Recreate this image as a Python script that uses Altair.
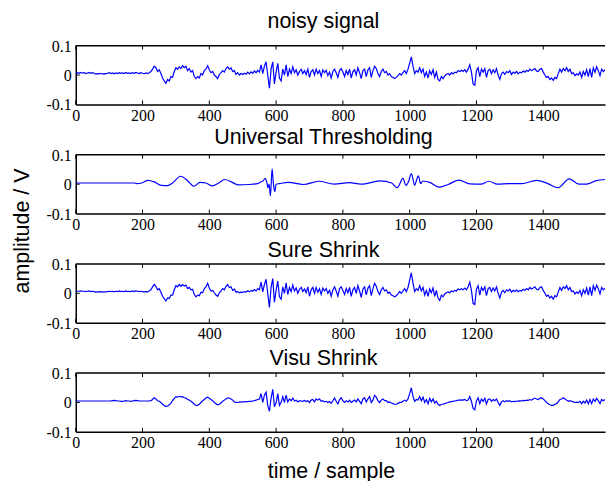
import altair as alt
import pandas as pd

STEP = 5
XMAX = 1585
W, H = 531, 59

x_ticks = [0, 200, 400, 600, 800, 1000, 1200, 1400]
y_tick_values = [-0.1, 0.0, 0.1]
y_tick_labels = ["-0.1", "0", "0.1"]
titles = ["noisy signal", "Universal Thresholding", "Sure Shrink", "Visu Shrink"]
title_offsets = [18, 11, 7, 8]

noisy = [
    0.004,0.008,0.006,0.009,0.007,0.008,0.005,0.007,0.009,0.006,0.008,0.006,0.003,0.005,0.004,0.006,0.003,0.005,0.004,0.006,
    0.008,0.005,0.007,0.004,0.007,0.005,0.008,0.006,0.007,0.005,0.009,0.006,0.007,0.005,0.008,0.006,0.009,0.007,0.005,0.008,
    0.006,0.004,0.007,0.005,0.008,0.012,0.02,0.03,0.025,0.012,0.018,0.005,-0.01,-0.02,-0.028,-0.015,-0.02,-0.005,-0.008,0.012,
    0.025,0.02,0.028,0.022,0.032,0.025,0.03,0.015,0.022,0.01,0.015,-0.005,-0.012,-0.005,-0.01,0.005,0.0,0.015,0.02,0.032,
    0.018,0.008,0.012,0.0,-0.005,-0.012,0.002,0.008,0.015,0.01,0.022,0.028,0.02,0.024,0.012,0.015,0.002,0.008,0.0,0.005,
    0.002,0.006,0.003,0.01,0.004,0.011,0.006,0.014,0.008,0.016,0.01,0.035,0.005,0.03,0.045,0.0,-0.045,0.02,0.045,-0.03,
    0.01,0.04,-0.01,-0.02,0.02,0.0,0.035,-0.005,0.02,0.005,0.028,0.008,0.018,0.0,0.012,0.02,0.005,0.015,0.002,0.02,
    -0.008,0.012,0.018,0.0,0.02,0.005,0.015,-0.005,0.018,0.008,0.016,-0.002,0.01,-0.01,0.012,0.02,0.008,-0.008,0.015,0.022,
    0.01,-0.005,0.015,0.002,0.02,-0.01,0.012,0.018,0.0,0.025,0.008,-0.012,0.015,0.02,-0.005,0.018,0.025,-0.008,0.015,0.03,
    0.022,0.005,-0.005,0.012,0.02,0.008,0.012,0.0,0.005,-0.005,-0.008,-0.012,-0.008,-0.002,0.005,0.0,0.008,0.015,0.005,0.02,
    0.04,0.062,0.03,0.005,0.015,0.01,0.025,0.008,0.02,-0.005,0.01,-0.01,0.015,0.002,0.018,-0.008,0.01,-0.015,-0.02,-0.005,
    -0.012,-0.002,0.002,0.005,0.0,0.008,0.004,0.01,0.008,0.015,0.012,0.016,0.012,0.018,0.01,0.02,0.035,0.01,-0.03,-0.035,
    0.015,0.025,-0.005,0.02,0.01,0.022,-0.008,0.015,0.02,0.005,0.018,0.008,0.022,0.0,-0.015,0.005,0.01,0.002,0.012,0.008,
    0.015,0.002,0.01,0.006,0.012,0.004,0.01,0.008,0.014,0.01,0.016,0.012,0.02,0.015,0.018,0.022,0.014,0.012,0.02,0.022,
    0.01,0.0,-0.008,-0.005,-0.015,-0.01,-0.018,-0.008,-0.012,0.005,0.02,0.01,0.022,0.015,0.025,0.012,0.02,0.005,0.008,-0.002,
    0.004,0.0,0.01,-0.008,0.012,0.0,0.018,-0.005,0.022,-0.008,0.025,0.01,0.028,0.015,-0.002,0.02,0.012,0.018,
]

sure = [
    0.005,0.007,0.007,0.008,0.007,0.007,0.006,0.007,0.008,0.006,0.007,0.006,0.004,0.005,0.005,0.006,0.004,0.005,0.005,0.006,
    0.007,0.006,0.007,0.005,0.007,0.006,0.008,0.006,0.007,0.006,0.008,0.006,0.007,0.006,0.008,0.006,0.008,0.007,0.006,0.007,
    0.006,0.005,0.006,0.005,0.008,0.012,0.022,0.03,0.024,0.012,0.016,0.004,-0.01,-0.018,-0.026,-0.016,-0.018,-0.006,-0.006,0.012,
    0.026,0.022,0.03,0.024,0.03,0.025,0.028,0.016,0.02,0.012,0.014,-0.004,-0.012,-0.006,-0.008,0.004,0.002,0.016,0.022,0.034,
    0.018,0.008,0.01,0.002,-0.006,-0.01,0.002,0.008,0.016,0.012,0.024,0.03,0.02,0.022,0.01,0.014,0.004,0.006,0.002,0.004,
    0.003,0.006,0.004,0.009,0.005,0.01,0.007,0.013,0.008,0.016,0.012,0.038,0.005,0.03,0.048,0.0,-0.048,0.02,0.05,-0.03,
    0.01,0.042,-0.012,-0.02,0.022,0.0,0.036,-0.004,0.02,0.006,0.028,0.008,0.018,0.0,0.014,0.02,0.006,0.015,0.002,0.022,
    -0.01,0.012,0.02,0.0,0.02,0.004,0.016,-0.004,0.018,0.008,0.016,0.0,0.01,-0.01,0.012,0.022,0.008,-0.01,0.016,0.022,
    0.01,-0.004,0.016,0.002,0.02,-0.01,0.012,0.02,0.0,0.026,0.008,-0.014,0.015,0.022,-0.005,0.018,0.026,-0.008,0.016,0.034,
    0.024,0.006,-0.004,0.012,0.02,0.008,0.012,0.0,0.004,-0.006,-0.008,-0.012,-0.008,-0.002,0.006,0.0,0.008,0.016,0.006,0.02,
    0.045,0.07,0.035,0.006,0.016,0.01,0.026,0.008,0.02,-0.006,0.01,-0.01,0.015,0.002,0.018,-0.01,0.01,-0.016,-0.024,-0.006,
    -0.012,-0.002,0.002,0.005,0.002,0.008,0.005,0.01,0.008,0.015,0.012,0.016,0.012,0.018,0.012,0.022,0.038,0.01,-0.035,-0.038,
    0.014,0.026,-0.006,0.02,0.01,0.022,-0.008,0.016,0.02,0.006,0.018,0.008,0.022,0.0,-0.016,0.004,0.01,0.002,0.012,0.008,
    0.014,0.004,0.01,0.006,0.012,0.005,0.01,0.008,0.014,0.01,0.016,0.012,0.02,0.015,0.018,0.022,0.014,0.012,0.02,0.022,
    0.01,0.0,-0.01,-0.006,-0.016,-0.01,-0.02,-0.008,-0.012,0.004,0.02,0.01,0.022,0.016,0.026,0.012,0.02,0.006,0.008,-0.002,
    0.004,0.0,0.01,-0.008,0.012,0.0,0.018,-0.006,0.022,-0.008,0.026,0.01,0.028,0.016,-0.002,0.02,0.012,0.018,
]

visu = [
    0.005,0.005,0.005,0.005,0.005,0.005,0.005,0.005,0.005,0.005,0.005,0.005,0.005,0.005,0.005,0.005,0.005,0.005,0.005,0.005,
    0.005,0.005,0.006,0.007,0.006,0.005,0.005,0.004,0.004,0.005,0.006,0.005,0.005,0.004,0.005,0.006,0.007,0.006,0.005,0.005,
    0.005,0.005,0.005,0.005,0.005,0.006,0.01,0.016,0.012,0.006,0.004,0.0,-0.006,-0.01,-0.014,-0.012,-0.008,-0.002,0.006,0.014,
    0.02,0.018,0.021,0.019,0.02,0.016,0.015,0.01,0.008,0.004,0.0,-0.006,-0.01,-0.01,-0.006,0.0,0.006,0.01,0.015,0.018,
    0.014,0.01,0.006,0.0,-0.004,-0.008,-0.006,-0.002,0.004,0.008,0.012,0.016,0.015,0.012,0.008,0.002,0.0,0.0,0.001,0.002,
    0.002,0.002,0.003,0.003,0.004,0.004,0.005,0.006,0.008,0.01,0.012,0.03,0.0,0.025,0.035,-0.01,-0.03,0.015,0.045,-0.015,
    0.0,0.03,-0.01,0.0,0.02,0.0,0.025,0.002,0.012,0.006,0.015,0.005,0.008,0.002,0.006,0.005,0.004,0.007,0.003,0.006,
    0.0,0.008,0.01,0.002,0.012,0.008,0.012,0.004,0.006,0.002,0.004,0.0,0.003,-0.003,0.006,0.015,0.004,-0.005,0.01,0.016,
    0.006,0.0,0.006,0.002,0.008,0.0,0.004,0.008,0.002,0.012,0.004,-0.004,0.012,0.016,0.002,0.012,0.02,0.0,0.008,0.024,
    0.018,0.006,0.0,0.008,0.012,0.006,0.006,0.0,0.002,-0.002,-0.004,-0.006,-0.006,-0.003,0.0,0.0,0.004,0.008,0.004,0.012,
    0.03,0.05,0.02,0.004,0.01,0.008,0.02,0.006,0.018,0.0,0.01,-0.004,0.014,0.002,0.012,-0.002,0.004,-0.006,-0.01,-0.006,
    -0.006,-0.004,-0.002,0.0,0.002,0.003,0.004,0.005,0.006,0.008,0.008,0.009,0.008,0.01,0.006,0.008,0.02,0.004,-0.02,-0.025,
    0.005,0.016,-0.004,0.012,0.004,0.014,-0.005,0.01,0.012,0.004,0.01,0.006,0.012,0.0,-0.01,0.002,0.006,0.002,0.006,0.004,
    0.006,0.002,0.004,0.003,0.005,0.004,0.006,0.005,0.007,0.006,0.008,0.007,0.01,0.008,0.012,0.015,0.012,0.01,0.014,0.016,
    0.012,0.006,0.0,-0.004,-0.008,-0.01,-0.01,-0.006,-0.004,0.002,0.01,0.012,0.016,0.012,0.008,0.004,0.006,0.004,0.002,0.0,
    0.001,0.0,0.004,-0.004,0.004,-0.002,0.008,-0.004,0.01,-0.004,0.012,0.004,0.014,0.006,-0.004,0.01,0.006,0.01,
]

univ_t = [0, 175, 182, 200, 216, 235, 256, 275, 290, 314,
          335, 354, 372, 390, 409, 428, 446, 466, 486, 520,
          544, 555, 562, 567, 572, 576, 579, 583, 588, 592,
          596, 600, 610, 636, 682, 728, 774, 820, 854, 912,
          946, 963, 980, 989, 997, 1005, 1015, 1020, 1026, 1033,
          1038, 1043, 1060, 1089, 1117, 1148, 1180, 1214, 1237, 1263,
          1297, 1336, 1380, 1414, 1444, 1478, 1507, 1530, 1559, 1585]
univ_v = [0.004, 0.004, 0.002, 0.005, 0.013, 0.008, -0.004, -0.005, 0.004, 0.027,
          0.012, -0.007, 0.006, 0.004, -0.006, 0.004, 0.016, 0.008, -0.002, -0.001,
          0.002, 0.008, 0.012, 0.02, 0.008, -0.012, 0.0, -0.04, 0.052, 0.0,
          -0.025, 0.0, 0.002, 0.006, -0.001, 0.01, 0.0, 0.005, 0.0, 0.011,
          0.004, -0.012, 0.02, -0.004, 0.01, 0.036, -0.004, 0.012, 0.028, 0.002,
          0.01, 0.01, 0.006, -0.01, 0.0, 0.014, 0.001, 0.0, 0.01, 0.0,
          0.002, 0.002, 0.013, 0.002, -0.012, 0.018, 0.0, 0.0, 0.012, 0.016]


def series_df(vals):
    return pd.DataFrame({"t": [i * STEP for i in range(len(vals))], "v": vals})


xscale = alt.Scale(domain=[0, XMAX], nice=False, zero=False)
yscale = alt.Scale(domain=[-0.1, 0.1], nice=False, zero=False)


def panel(df, title, toff, interp, ytitle=False, xtitle=False):
    xa = dict(values=x_ticks, labelFlush=False, labelPadding=3, format="d", labelOverlap=False)
    if xtitle:
        xa.update(title="time / sample", titleX=256, titleY=46,
                  titleBaseline="alphabetic", titleAlign="center", titleAnchor="start")
    else:
        xa.update(title="")
    ya = dict(values=y_tick_values, labels=False)
    if ytitle:
        ya.update(title="amplitude / V", titleX=-53, titleY=76, titleAngle=-90,
                  titleBaseline="middle", titleAlign="center", titleAnchor="start")
    else:
        ya.update(title="")
    line = alt.Chart(df).mark_line(color="#0000ff", strokeWidth=1.2, clip=True, interpolate=interp).encode(
        x=alt.X("t:Q", scale=xscale, axis=alt.Axis(**xa)),
        y=alt.Y("v:Q", scale=yscale, axis=alt.Axis(**ya)),
    )
    tick_df = pd.DataFrame({"t": x_ticks})
    top_ticks = alt.Chart(tick_df).mark_rule(color="black", strokeWidth=1).encode(
        x=alt.X("t:Q", scale=xscale), y=alt.value(0), y2=alt.value(4))
    bot_ticks = alt.Chart(tick_df).mark_rule(color="black", strokeWidth=1).encode(
        x=alt.X("t:Q", scale=xscale), y=alt.value(H), y2=alt.value(H - 4))
    ytick = alt.Chart(pd.DataFrame({"v": [0.0]})).mark_rule(color="black", strokeWidth=1).encode(
        y=alt.Y("v:Q", scale=yscale), x=alt.value(0), x2=alt.value(4))
    ylabels = alt.Chart(pd.DataFrame({"v": y_tick_values, "lab": y_tick_labels})).mark_text(
        align="right", baseline="middle", font="Liberation Serif", fontSize=16, color="black", dx=-4, dy=1
    ).encode(y=alt.Y("v:Q", scale=yscale), x=alt.value(0), text="lab:N")
    top_border = alt.Chart(pd.DataFrame({"a": [0]})).mark_rule(color="black", strokeWidth=1.5).encode(
        x=alt.value(0), x2=alt.value(W), y=alt.value(0))
    ttl = alt.Chart(pd.DataFrame({"title": [title]})).mark_text(
        align="center", baseline="alphabetic", font="Liberation Sans", fontSize=21.5, color="black"
    ).encode(x=alt.value(W / 2 - 17), y=alt.value(-toff), text="title:N")
    return alt.layer(line, top_ticks, bot_ticks, ytick, ylabels, top_border, ttl).properties(
        width=W, height=H)


p1 = panel(series_df(noisy), titles[0], title_offsets[0], "linear")
p2 = panel(pd.DataFrame({"t": univ_t, "v": univ_v}), titles[1], title_offsets[1], "monotone", ytitle=True)
p3 = panel(series_df(sure), titles[2], title_offsets[2], "linear")
p4 = panel(series_df(visu), titles[3], title_offsets[3], "linear", xtitle=True)

chart = alt.vconcat(p1, p2, p3, p4, spacing=50.5, bounds="flush").properties(
    padding={"left": 12, "top": 10, "right": 0, "bottom": 0},
    background="white",
).configure_view(strokeWidth=0).configure_axis(
    domainColor="black", domainWidth=1.5, ticks=False, tickSize=0, grid=False,
    labelFont="Liberation Serif", labelFontSize=16, labelColor="black",
    titleFont="Liberation Sans", titleFontSize=21.5, titleFontWeight="normal", titleColor="black",
)

chart.save("out.html", embed_options={"renderer": "svg", "actions": False})
